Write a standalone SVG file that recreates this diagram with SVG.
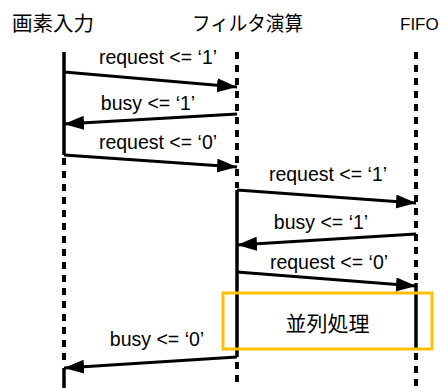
<svg xmlns="http://www.w3.org/2000/svg" width="440" height="388" viewBox="0 0 440 388">
<style>
.hdr{font-family:"Noto Sans CJK JP","Noto Sans",sans-serif;font-size:20px;fill:#000}
.lbl{font-family:"Liberation Sans",Arial,sans-serif;font-size:19.5px;fill:#000;text-anchor:middle}
.solid{stroke:#000;stroke-width:3.5;fill:none}
.dash{stroke:#000;stroke-width:4;stroke-dasharray:7 6;fill:none}
.msg{stroke:#000;stroke-width:3;fill:none;marker-end:url(#ah)}
</style>
<defs>
<marker id="ah" markerUnits="userSpaceOnUse" markerWidth="22" markerHeight="16" refX="20" refY="7" orient="auto">
<path d="M0,0 L20,7 L0,14 z" fill="#000"/>
</marker>
</defs>
<rect width="440" height="388" fill="#fff"/>
<g id="node-pixel-input">
<text class="hdr" x="12" y="31" textLength="82" lengthAdjust="spacingAndGlyphs">画素入力</text>
<line class="solid" x1="64" y1="52" x2="64" y2="155"/>
<line class="dash" x1="64" y1="158" x2="64" y2="366"/>
<line class="solid" x1="64" y1="368" x2="64" y2="388"/>
</g>
<g id="node-filter">
<text class="hdr" x="192" y="31" textLength="111" lengthAdjust="spacingAndGlyphs">フィルタ演算</text>
<line class="dash" x1="237" y1="52" x2="237" y2="188"/>
<line class="solid" x1="237" y1="190" x2="237" y2="357"/>
<line class="dash" x1="237" y1="362" x2="237" y2="388"/>
</g>
<g id="node-fifo">
<text x="400" y="30" style="font-family:'Liberation Sans',Arial,sans-serif;font-size:17px;fill:#000">FIFO</text>
<line class="dash" x1="416" y1="52" x2="416" y2="281"/>
<line class="solid" x1="416" y1="283" x2="416" y2="348"/>
<line class="dash" x1="416" y1="353" x2="416" y2="388"/>
</g>
<g id="node-parallel">
<rect x="223" y="293" width="209" height="56" fill="none" stroke="#FFC000" stroke-width="3"/>
<text x="327.5" y="331" style="font-family:'Noto Sans CJK JP',sans-serif;font-size:21px;text-anchor:middle">並列処理</text>
</g>
<g id="connectors">
<line class="msg" x1="64" y1="72" x2="237" y2="87"/>
<text class="lbl" x="158" y="64">request &lt;= ‘1’</text>
<line class="msg" x1="237" y1="114" x2="64" y2="124"/>
<text class="lbl" x="148" y="110">busy &lt;= ‘1’</text>
<line class="msg" x1="64" y1="155" x2="237" y2="167"/>
<text class="lbl" x="158" y="149">request &lt;= ‘0’</text>
<line class="msg" x1="237" y1="190" x2="416" y2="203"/>
<text class="lbl" x="328" y="181">request &lt;= ‘1’</text>
<line class="msg" x1="416" y1="234" x2="237" y2="245"/>
<text class="lbl" x="321" y="229">busy &lt;= ‘1’</text>
<line class="msg" x1="237" y1="272" x2="416" y2="286"/>
<text class="lbl" x="329" y="269">request &lt;= ‘0’</text>
<line class="msg" x1="237" y1="357" x2="64" y2="368"/>
<text class="lbl" x="157" y="346">busy &lt;= ‘0’</text>
</g>
</svg>
